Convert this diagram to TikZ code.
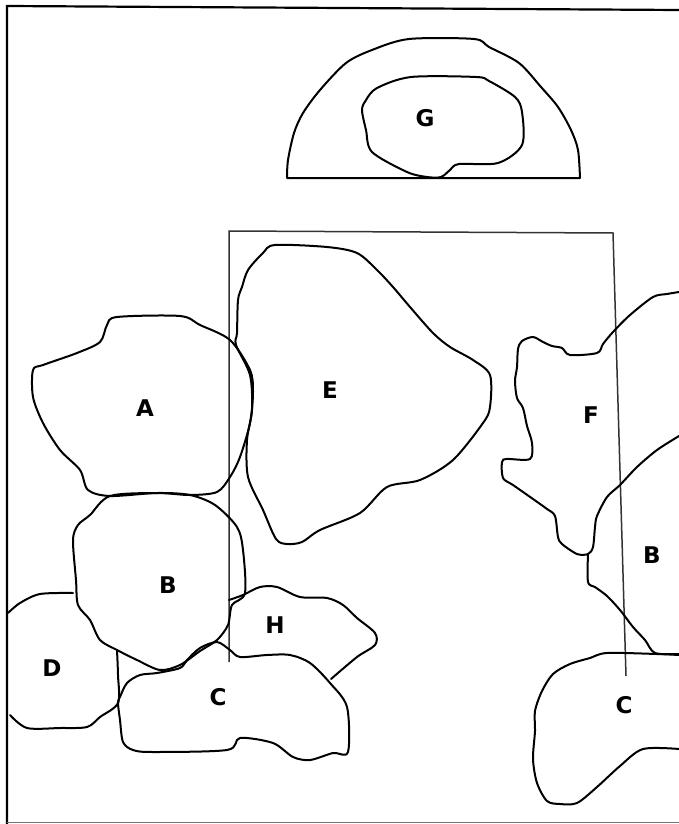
\documentclass[tikz,border=0pt]{standalone}
\usepackage{fontspec}
\setmainfont{DejaVu Sans}

\begin{document}
\begin{tikzpicture}[x=1pt,y=-1pt,
    region/.style={line width=2pt,line join=round,line cap=round},
    wall/.style={line width=1.5pt,black!80},
    lbl/.style={font=\fontsize{23}{23}\selectfont\bfseries}]
    \useasboundingbox (0,0) rectangle (679,824);
    % outer frame
    \draw [line width=2.2pt] (7,824) -- (7,6) -- (679,10);
    \draw [line width=1pt,black!55] (679,10) -- (679,822) -- (7,822);
    % dome with G
    \draw [region] (580,178) -- (287,178) plot [smooth,tension=0.5] coordinates {(287,178) (288,160) (294,133) (303,113) (320,90) (346,63) (372,50) (409,39) (474,39) (489,47) (519,63) (541,87) (558,107) (571,130) (578,150) (580,178)};
    \draw [region] plot [smooth cycle,tension=0.5] coordinates {(411,77) (476,77) (489,81) (515,97) (522,112) (522,145) (498,163) (459,164) (450,170) (441,177) (427,177) (407,172) (372,152) (366,130) (362,110) (366,100) (377,88)};
    % open box
    \draw [wall] (229,662) -- (229,231) -- (613,233) -- (626,676);
    % left group
    \draw [region] plot [smooth cycle,tension=0.5] coordinates {(275,245) (327,247) (357,253) (377,270) (393,287) (410,307) (433,333) (450,347) (473,360) (490,375) (490,407) (483,423) (453,460) (420,480) (387,487) (360,513) (320,530) (302,542) (287,544) (276,539) (263,510) (248,477) (247,440) (252,410) (250,375) (236,345) (237,333) (238,300) (242,287) (248,270) (263,253)};
    \draw [region] plot [smooth cycle,tension=0.5] coordinates {(117,317) (180,316) (200,325) (230,340) (250,370) (253,392) (250,423) (240,457) (230,477) (217,492) (190,495) (157,493) (110,496) (88,490) (80,470) (60,450) (43,423) (33,397) (33,370) (43,365) (77,353) (100,342) (107,325)};
    \draw [region] plot [smooth cycle,tension=0.5] coordinates {(110,496) (157,493) (190,495) (215,505) (237,527) (243,550) (245,593) (232,605) (228,625) (217,640) (200,651) (180,665) (160,670) (137,660) (117,650) (100,640) (90,620) (78,605) (76,580) (73,540) (78,525) (90,515)};
    \draw [region] plot [smooth,tension=0.5] coordinates {(8,613) (20,603) (40,594) (73,593)};
    \draw [region] plot [smooth,tension=0.5] coordinates {(117,650) (118,675) (118,703) (100,717) (87,727) (60,728) (27,728) (10,715)};
    \draw [region] plot [smooth cycle,tension=0.5] coordinates {(118,703) (120,697) (127,683) (140,675) (157,673) (180,668) (187,660) (200,648) (217,642) (230,650) (240,657) (267,655) (290,655) (310,663) (330,683) (347,707) (348,752) (333,753) (310,760) (293,757) (273,743) (240,738) (227,750) (153,752) (133,750) (123,742) (120,720)};
    \draw [region] plot [smooth,tension=0.5] coordinates {(229,600) (243,595) (260,587) (277,587) (300,597) (327,598) (343,605) (357,618) (375,633) (375,645) (357,657) (331,679)};
    % right group
    \draw [region] plot [smooth,tension=0.5] coordinates {(679,292) (667,294) (653,297) (630,315) (613,332) (603,344) (597,353) (570,355) (562,348) (552,346) (543,342) (533,337) (522,341) (518,349) (517,367) (515,381) (517,398) (523,408) (527,426) (532,443) (530,459) (507,459) (502,462) (503,478) (513,485) (533,499) (547,509) (555,516) (558,537) (562,544) (577,554) (588,554) (593,547) (595,527) (597,516) (607,497) (620,485) (637,467) (657,450) (679,436)};
    \draw [region] plot [smooth,tension=0.5] coordinates {(588,554) (588,582) (595,587) (607,596) (620,610) (633,627) (645,640) (655,653) (679,654)};
    \draw [region] plot [smooth,tension=0.5] coordinates {(679,655) (657,654) (607,653) (590,658) (570,664) (553,674) (542,691) (535,711) (535,731) (533,759) (537,783) (547,801) (560,804) (577,803) (597,787) (620,766) (643,749) (679,749)};
    % labels
    \node[lbl] (G) at (425,118) {G};
    \node[lbl] (E) at (330,390) {E};
    \node[lbl] (A) at (145,408) {A};
    \node[lbl] (F) at (591,415) {F};
    \node[lbl] (B) at (168,585) {B};
    \node[lbl] (B2) at (652,555) {B};
    \node[lbl] (H) at (275,625) {H};
    \node[lbl] (D) at (52,668) {D};
    \node[lbl] (C) at (218,697) {C};
    \node[lbl] (C2) at (624,705) {C};
\end{tikzpicture}
\end{document}
